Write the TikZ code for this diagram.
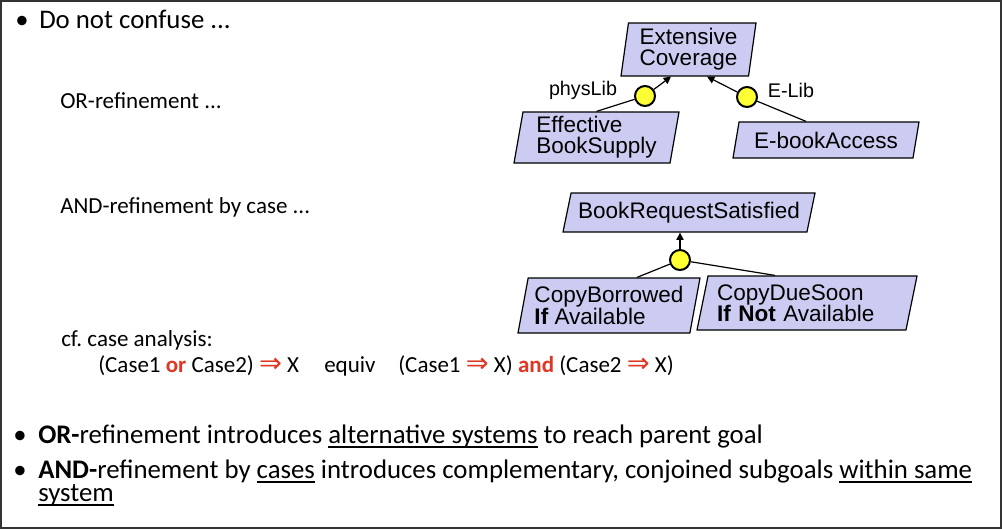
\documentclass[tikz,border=0pt]{standalone}
\usepackage{fontspec}
\setmainfont{Carlito}
\newfontfamily\diagfont{Liberation Sans}
\newfontfamily\symfont{DejaVu Sans}
\usetikzlibrary{shapes.geometric,arrows.meta,calc}

\definecolor{goalfill}{RGB}{204,204,242}
\definecolor{refyellow}{RGB}{255,255,51}
\definecolor{casered}{RGB}{222,56,36}
\definecolor{framegray}{RGB}{51,51,51}

\newcommand{\impl}{\textcolor{casered}{\symfont\fontsize{20.5}{20}\selectfont ⇒}}
\newcommand{\redbf}[1]{\textcolor{casered}{\textbf{#1}}}
\newcommand{\undl}[1]{\setbox0\hbox{#1}\rlap{\rule[-3.6pt]{\wd0}{1.2pt}}\box0\relax}

\tikzset{
  goal/.style={trapezium, trapezium stretches body, draw=black, line width=0.9pt,
    fill=goalfill, inner sep=0pt, align=center,
    font=\diagfont\fontsize{16.9}{16}\selectfont},
  refcircle/.style={circle, draw=black, line width=1.5pt, fill=refyellow,
    minimum size=15pt, inner sep=0pt},
  reflabel/.style={inner sep=0pt, font=\diagfont\fontsize{14.8}{16}\selectfont},
  reflink/.style={line width=0.9pt},
  refarrow/.style={line width=0.9pt, -{Triangle[length=5.5pt,width=5.5pt]}},
  slidetext/.style={anchor=base west, inner sep=0pt, font=\fontsize{17.25}{20}\selectfont},
  bullettext/.style={anchor=base west, inner sep=0pt, font=\fontsize{20.1}{24}\selectfont},
  slidebullet/.style={anchor=base, inner sep=0pt, font=\fontsize{20}{24}\selectfont},
}

\begin{document}
\frenchspacing
\begin{tikzpicture}[x=0.75pt,y=0.75pt,yscale=-1,xscale=1]
\useasboundingbox (0,0) rectangle (1002,529);

%Frame
\draw[framegray, line width=1.5pt] (1,1) rectangle (1000.5,527.5);

%Left texts
\node[slidebullet] (b1) at (22,28) {•};
\node[bullettext] (confuse) at (39,28) {Do not confuse ...};
\node[slidetext] (orref) at (60,108) {OR-refinement ...};
\node[slidetext] (andref) at (60,213) {AND-refinement by case ...};
\node[slidetext] (cf) at (61,346) {cf.\ case analysis:};
\node[slidetext] (lhs) at (98,372) {(Case1 \redbf{or} Case2) \impl{} X};
\node[slidetext] (equiv) at (324,372) {equiv};
\node[slidetext] (rhs) at (398,372) {(Case1 \impl{} X) \redbf{and} (Case2 \impl{} X)};

%OR-refinement
\node[goal, trapezium left angle=80, trapezium right angle=100,
  minimum width=101.25pt, minimum height=39.75pt] (ext) at (688.5,49.5) {Extensive\\Coverage};
\node[goal, trapezium left angle=78, trapezium right angle=102, align=left,
  minimum width=123.75pt, minimum height=38.25pt] (eff) at (596.5,137.5) {Effective\\BookSupply};
\node[goal, trapezium left angle=70, trapezium right angle=110,
  minimum width=139.5pt, minimum height=27pt] (ebook) at (826,140) {E-bookAccess};
\node[refcircle] (or1) at (645,96) {};
\node[refcircle] (or2) at (747,97) {};
\node[reflabel] (phys) at (583,90) {physLib};
\node[reflabel] (elib) at (791,90) {E-Lib};
\draw[refarrow] (or1) -- ($(ext.south)+(-17.5,0)$);
\draw[refarrow] (or2) -- ($(ext.south)+(18.5,0)$);
\draw[reflink] (or1) -- (eff.north);
\draw[reflink] (or2) -- ($(ebook.north)+(-20,0)$);

%AND-refinement by case
\node[goal, trapezium left angle=69, trapezium right angle=111,
  minimum width=189pt, minimum height=29.25pt] (req) at (689,212.5) {BookRequestSatisfied};
\node[goal, trapezium left angle=75, trapezium right angle=105, align=left,
  minimum width=136.5pt, minimum height=41.25pt] (borrow) at (609,305.5) {CopyBorrowed\\\textbf{If} Available};
\node[goal, trapezium left angle=73.5, trapezium right angle=106.5, align=left, text width=135pt,
  minimum width=165pt, minimum height=40.5pt] (due) at (807,303) {CopyDueSoon\\\textbf{If Not} Available};
\node[refcircle] (and1) at (680,260) {};
\draw[refarrow] (and1) -- (and1 |- req.south);
\draw[reflink] (and1) -- ($(borrow.north)+(28,0)$);
\draw[reflink] (and1) -- ($(due.north)+(-32,0)$);

%Summary bullets
\node[slidebullet] (b2) at (20,443) {•};
\node[bullettext] (orsum) at (38,443) {\textbf{OR-}refinement introduces \undl{alternative systems} to reach parent goal};
\node[slidebullet] (b3) at (20,478) {•};
\node[bullettext] (andsum) at (38,478) {\textbf{AND-}refinement by \undl{cases} introduces complementary, conjoined subgoals \undl{within same}};
\node[bullettext] (andsys) at (38,501) {\undl{system}};

\end{tikzpicture}
\end{document}
